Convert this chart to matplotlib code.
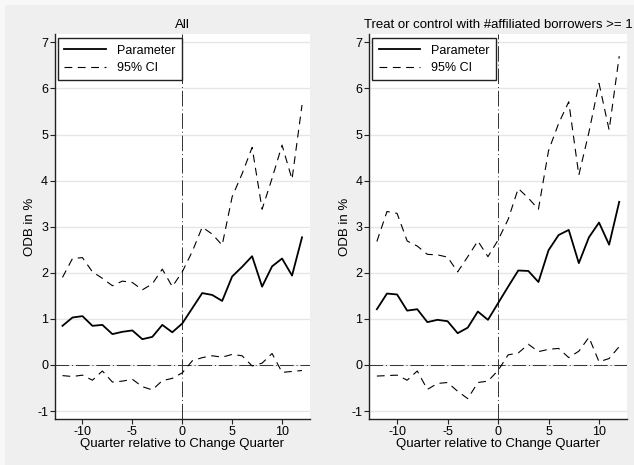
import numpy as np
import matplotlib
matplotlib.use("Agg")
import matplotlib.pyplot as plt
from matplotlib.patches import Rectangle

plt.rcParams['font.family'] = ['Liberation Sans', 'DejaVu Sans']

# quarters relative to change quarter
quarters = np.arange(-12, 13)

# left panel: All
all_param = [0.85, 1.03, 1.06, 0.85, 0.87, 0.67, 0.72, 0.75, 0.56, 0.61, 0.87, 0.71, 0.90,
             1.23, 1.56, 1.52, 1.39, 1.92, 2.13, 2.36, 1.70, 2.14, 2.31, 1.94, 2.77]
all_upper = [1.90, 2.31, 2.33, 2.02, 1.88, 1.72, 1.82, 1.79, 1.63, 1.76, 2.08, 1.70, 2.02,
             2.46, 2.99, 2.84, 2.60, 3.65, 4.15, 4.72, 3.38, 4.05, 4.77, 4.03, 5.64]
all_lower = [-0.23, -0.25, -0.22, -0.33, -0.13, -0.37, -0.35, -0.31, -0.47, -0.54, -0.34, -0.29, -0.17,
             0.09, 0.16, 0.20, 0.17, 0.23, 0.20, -0.02, 0.04, 0.25, -0.16, -0.14, -0.12]

# right panel: treat or control with affiliated borrowers
aff_param = [1.21, 1.55, 1.53, 1.18, 1.21, 0.93, 0.98, 0.95, 0.69, 0.81, 1.16, 0.98, 1.34,
             1.70, 2.05, 2.04, 1.80, 2.49, 2.82, 2.93, 2.21, 2.77, 3.09, 2.61, 3.54]
aff_upper = [2.68, 3.33, 3.29, 2.69, 2.58, 2.40, 2.39, 2.34, 2.02, 2.35, 2.69, 2.35, 2.71,
             3.16, 3.83, 3.62, 3.38, 4.65, 5.24, 5.71, 4.12, 5.05, 6.11, 5.10, 6.70]
aff_lower = [-0.24, -0.23, -0.22, -0.33, -0.13, -0.53, -0.40, -0.38, -0.57, -0.73, -0.38, -0.35, -0.12,
             0.22, 0.26, 0.45, 0.29, 0.34, 0.36, 0.16, 0.30, 0.60, 0.07, 0.14, 0.40]

titles = ["All", "Treat or control with #affiliated borrowers >= 1"]
panels = [(all_param, all_upper, all_lower), (aff_param, aff_upper, aff_lower)]

W, H = 634, 465
bg = '#efefef'
fig = plt.figure(figsize=(W / 100, H / 100), dpi=100, facecolor='#f8f8f8')
fig.patches.append(Rectangle((5 / W, 0), 1, 1 - 5 / H, transform=fig.transFigure,
                             facecolor=bg, edgecolor='none', zorder=-10))

# axes placement in pixels: (left, right, y-label x)
ax_pos = [(55, 310, 36), (369.3, 627.3, 351)]
top_px, bot_px = 34.5, 418.7

for (x0, x1, xl), title, (param, upper, lower) in zip(ax_pos, titles, panels):
    ax = fig.add_axes([x0 / W, 1 - bot_px / H, (x1 - x0) / W, (bot_px - top_px) / H])
    ax.set_facecolor('white')

    ax.plot(quarters, param, color='black', lw=1.3, label='Parameter', zorder=4)
    ax.plot(quarters, upper, color='black', lw=0.8, ls=(0, (7, 5)), label='95% CI', zorder=4)
    ax.plot(quarters, lower, color='black', lw=0.8, ls=(0, (7, 5)), zorder=4)

    ax.axvline(0, color='#333333', lw=0.7, ls=(0, (16, 3, 1, 3)), zorder=3)
    ax.axhline(0, color='#333333', lw=0.7, ls=(0, (14, 3, 1, 3)), zorder=3)

    ax.set_xlim(-12.75, 12.8)
    ax.set_ylim(-1.165, 7.17)
    ax.set_xticks([-10, -5, 0, 5, 10])
    ax.set_yticks(range(-1, 8))
    ax.set_yticklabels([str(v) for v in range(-1, 8)])
    ax.set_xticklabels(['-10', '-5', '0', '5', '10'])
    ax.grid(axis='y', color='#e6e6e6', lw=1.0, zorder=0)
    ax.set_axisbelow(True)

    for side in ['top', 'right']:
        ax.spines[side].set_visible(False)
    for side in ['left', 'bottom']:
        ax.spines[side].set_color('#222222')
        ax.spines[side].set_linewidth(1.0)
    ax.tick_params(axis='both', labelsize=9, length=3.5, width=0.8, color='#222222', pad=1.5)

    ax.set_title(title, fontsize=9.5, pad=4.5)
    ax.set_xlabel("Quarter relative to Change Quarter", fontsize=9.5, labelpad=0)
    ax.set_ylabel("ODB in %", fontsize=9.5)
    ax.yaxis.set_label_coords((xl - x0) / (x1 - x0), 0.5)

    leg = ax.legend(loc='upper left', bbox_to_anchor=(0.012, 0.99), fontsize=9,
                    frameon=True, fancybox=False, handlelength=3.3, borderpad=0.5,
                    labelspacing=0.45, handletextpad=0.9, borderaxespad=0)
    leg.get_frame().set_edgecolor('#222222')
    leg.get_frame().set_linewidth(1.0)
    leg.get_frame().set_alpha(1)

fig.savefig("out.png", dpi=100, facecolor=fig.get_facecolor())
